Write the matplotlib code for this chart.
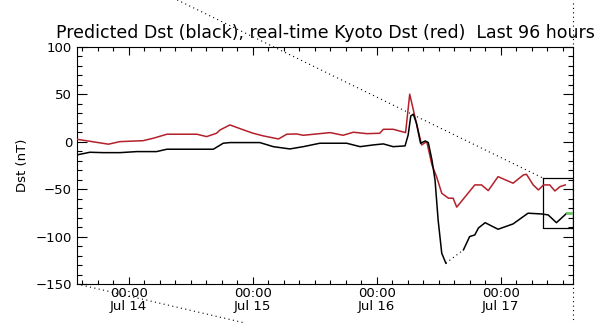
import numpy as np
import matplotlib
matplotlib.use("Agg")
import matplotlib.pyplot as plt
from matplotlib.ticker import FixedLocator, MultipleLocator

matplotlib.rcParams['font.family'] = ['DejaVu Sans']
matplotlib.rcParams['font.size'] = 9.5

# hours since Jul 13 14:00 (last 96 hours)
kyoto_hours = [0, 6.1, 8.3, 12.8, 14.8, 17.4, 23.2, 25.1, 27.0, 27.7, 29.6, 31.9,
               34.1, 36.1, 39.0, 40.6, 42.5, 43.8, 49.0, 51.5, 53.5, 56.1, 58.6,
               59.3, 61.2, 63.6, 64.4, 65.4, 66.7, 67.7, 68.7, 69.6, 70.6, 71.9,
               72.8, 73.5, 77.0, 78.3, 79.6, 81.5, 84.4, 86.4, 87.0, 88.3, 89.3,
               90.3, 91.5, 92.5, 93.5, 94.5]
kyoto_dst = [2.5, -2.7, 0, 1, 3.6, 7.8, 7.8, 5.3, 8.8, 12.3, 17.6, 13,
             8.8, 6, 2.8, 7.8, 8.1, 6.7, 9.5, 6.7, 9.9, 8.4, 8.8,
             13, 13, 9.5, 50, 26.3, -3.5, 0, -24.5, -36.9, -54.4, -59.6,
             -59.6, -69, -45.6, -45.6, -51.6, -36.9, -43.8, -35.1, -34.4, -45.6, -50.9,
             -45.6, -45.6, -52, -47.4, -45.6]

pred_hours = [0, 2.5, 5.1, 8.3, 11.6, 15.4, 17.4, 26.4, 28.3, 29.6, 35.4, 38.0,
              41.2, 43.8, 47.0, 52.2, 54.8, 57.3, 59.3, 61.2, 63.5, 64.1, 64.6,
              65.1, 65.7, 66.5, 67.4, 68.0, 68.7, 69.3, 69.9, 70.6, 71.4]
pred_dst = [-14, -11.2, -11.6, -11.6, -10.5, -10.5, -8, -8, -1.7, -1, -1, -5.3,
            -7.7, -5.3, -1.7, -1.7, -5.3, -3.5, -2.4, -5.3, -4.5, 7, 27,
            28.9, 19.4, -1.7, 0.7, -1, -19.3, -40.4, -82.5, -117.6, -128.1]

pred2_hours = [74.8, 75.4, 76.0, 77.0, 77.7, 79.0, 81.5, 84.4, 87.3, 89.9, 91.2, 92.8, 94.8]
pred2_dst = [-114, -107, -100, -98.3, -91, -85.4, -92.3, -86.7, -75.4, -76.2, -77.2, -85.4, -75.4]

next_hours = [94.9, 95.7]
next_dst = [-74.8, -74.8]

tick_hours = [10, 34, 58, 82]
tick_labels = ["00:00\nJul 14", "00:00\nJul 15", "00:00\nJul 16", "00:00\nJul 17"]

# zoom box and stray guide lines
box_x = [90.2, 96.0, 96.0, 90.2, 90.2]
box_y = [-38.4, -38.4, -91.3, -91.3, -38.4]
guide1_x = [19.4, 90.2]
guide1_y = [149.3, -38.4]
guide2_x = [0, 32.5]
guide2_y = [-150, -191]
guide3_x = [96, 96]
guide3_y = [-200, 200]

fig = plt.figure(figsize=(6.08, 3.23), dpi=100)
ax = fig.add_axes([0.1266, 0.1207, 0.8158, 0.7347])

dots = (0, (1, 3))
for gx, gy in [(guide1_x, guide1_y), (guide2_x, guide2_y), (guide3_x, guide3_y)]:
    ax.plot(gx, gy, color="black", lw=0.8, linestyle=dots, clip_on=False, zorder=1)

ax.plot(kyoto_hours, kyoto_dst, color="#B4202A", lw=1.1, zorder=3)
ax.plot(pred_hours, pred_dst, color="black", lw=1.1, zorder=4)
ax.plot([pred_hours[-1], pred2_hours[0]], [pred_dst[-1], pred2_dst[0]],
        color="black", lw=0.8, linestyle=dots, zorder=4)
ax.plot(pred2_hours, pred2_dst, color="black", lw=1.1, zorder=4)
ax.plot(next_hours, next_dst, color="#6CC46C", lw=2, zorder=5)
ax.plot(box_x, box_y, color="black", lw=0.9, zorder=2)

ax.set_xlim(0, 96)
ax.set_ylim(-150, 100)

ax.xaxis.set_major_locator(FixedLocator(tick_hours))
ax.xaxis.set_minor_locator(FixedLocator(np.arange(1, 96, 3)))
ax.set_xticklabels(tick_labels, linespacing=0.95)
ax.yaxis.set_major_locator(MultipleLocator(50))
ax.yaxis.set_minor_locator(MultipleLocator(10))

ax.tick_params(axis="both", which="both", direction="in", top=True, right=True,
               width=0.8, labelsize=9.5)
ax.tick_params(axis="x", which="major", length=5.4, pad=2.5)
ax.tick_params(axis="x", which="minor", length=2.9)
ax.tick_params(axis="y", which="major", length=7.2, pad=3.5)
ax.tick_params(axis="y", which="minor", length=3.6)
for s in ax.spines.values():
    s.set_linewidth(0.8)

ax.set_ylabel("Dst (nT)", fontsize=9.5, labelpad=5)
ax.set_title("Predicted Dst (black), real-time Kyoto Dst (red)  Last 96 hours",
             fontsize=12.5, pad=6)

fig.savefig("out.png", dpi=100)
plt.close()
